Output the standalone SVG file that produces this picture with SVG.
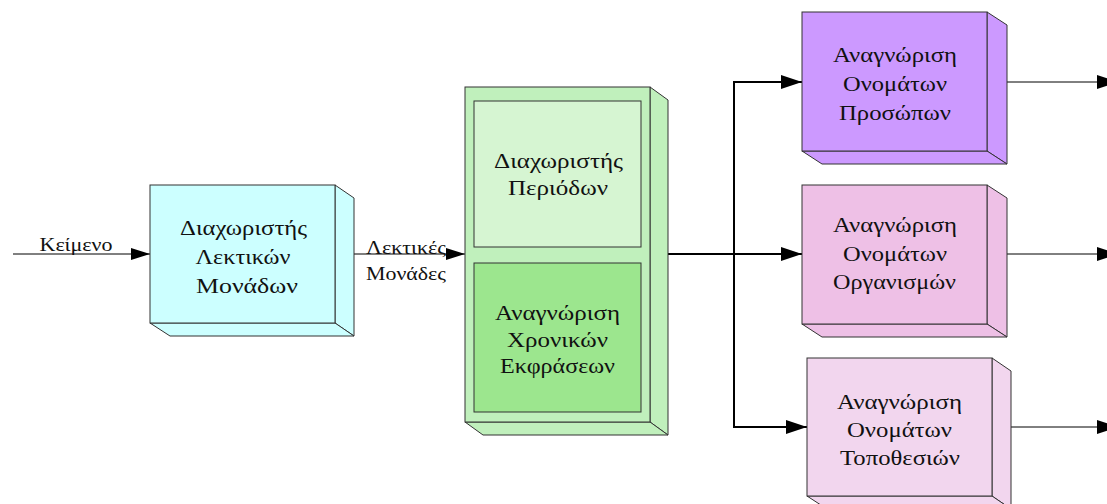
<svg xmlns="http://www.w3.org/2000/svg" width="1107" height="504" viewBox="0 0 1107 504">
  <style>
    .face { stroke: #333333; stroke-width: 1; }
    .lbl { font-size: 22px; fill: #111111; text-anchor: middle; }
    .elbl { font-size: 19px; fill: #111111; text-anchor: middle; }
    .wire { stroke: #000000; stroke-width: 1; fill: none; }
    .wire-bold { stroke: #000000; stroke-width: 2; fill: none; }
  </style>
  <defs>
    <marker id="arrow" viewBox="0 0 19 12" refX="19" refY="6" markerWidth="19" markerHeight="12" markerUnits="userSpaceOnUse" orient="auto">
      <path d="M0,0 L19,6 L0,12 Z" fill="#000000"/>
    </marker>
    <marker id="arrow-lg" viewBox="0 0 21 14" refX="21" refY="7" markerWidth="21" markerHeight="14" markerUnits="userSpaceOnUse" orient="auto">
      <path d="M0,0 L21,7 L0,14 Z" fill="#000000"/>
    </marker>
  </defs>
  <rect width="1107" height="504" fill="#ffffff"/>

  <!-- connectors -->
  <g id="connectors" font-family="Liberation Serif, serif">
    <line class="wire" x1="13" y1="254" x2="150" y2="254" marker-end="url(#arrow)"/>
    <line class="wire" x1="335" y1="254" x2="465" y2="254" marker-end="url(#arrow)"/>
    <line class="wire-bold" x1="650" y1="254" x2="735" y2="254"/>
    <polyline class="wire-bold" points="734,427 734,82 802,82" marker-end="url(#arrow-lg)"/>
    <line class="wire-bold" x1="734" y1="254" x2="802" y2="254" marker-end="url(#arrow-lg)"/>
    <line class="wire-bold" x1="733" y1="427" x2="807" y2="427" marker-end="url(#arrow-lg)"/>
    <line class="wire" x1="987" y1="82" x2="1118" y2="82" marker-end="url(#arrow-lg)"/>
    <line class="wire" x1="987" y1="254" x2="1118" y2="254" marker-end="url(#arrow-lg)"/>
    <line class="wire" x1="992" y1="427" x2="1118" y2="427" marker-end="url(#arrow-lg)"/>
    <text class="elbl" x="76" y="251" textLength="73" lengthAdjust="spacingAndGlyphs">Κείμενο</text>
    <text class="elbl" x="406" y="254" textLength="80" lengthAdjust="spacingAndGlyphs">Λεκτικές</text>
    <text class="elbl" x="406" y="280" textLength="80" lengthAdjust="spacingAndGlyphs">Μονάδες</text>
  </g>

  <!-- tokenizer -->
  <g id="tokenizer" fill="#ccffff" font-family="Liberation Serif, serif">
    <polygon class="face" points="335,185 354,198 354,336 335,323"/>
    <polygon class="face" points="150,323 335,323 354,336 170,336"/>
    <rect class="face" x="150" y="185" width="185" height="138"/>
    <text class="lbl" x="243.5" y="235" textLength="127" lengthAdjust="spacingAndGlyphs">Διαχωριστής</text>
    <text class="lbl" x="243" y="264" textLength="95" lengthAdjust="spacingAndGlyphs">Λεκτικών</text>
    <text class="lbl" x="247" y="293" textLength="102" lengthAdjust="spacingAndGlyphs">Μονάδων</text>
  </g>

  <!-- sentence splitter + temporal expressions -->
  <g id="preprocessing" fill="#c0f0bc" font-family="Liberation Serif, serif">
    <polygon class="face" points="650,87 668,100 668,435 650,422"/>
    <polygon class="face" points="465,422 650,422 668,435 483,435"/>
    <rect class="face" x="465" y="87" width="185" height="335"/>
    <rect class="face" x="474" y="101" width="167" height="146" fill="#d6f5d2"/>
    <rect class="face" x="474" y="263" width="167" height="149" fill="#9ce68e"/>
    <text class="lbl" x="558.5" y="168" textLength="129" lengthAdjust="spacingAndGlyphs">Διαχωριστής</text>
    <text class="lbl" x="558" y="195" textLength="100" lengthAdjust="spacingAndGlyphs">Περιόδων</text>
    <text class="lbl" x="557.5" y="320" textLength="125" lengthAdjust="spacingAndGlyphs">Αναγνώριση</text>
    <text class="lbl" x="557.5" y="347" textLength="101" lengthAdjust="spacingAndGlyphs">Χρονικών</text>
    <text class="lbl" x="557.5" y="373" textLength="115" lengthAdjust="spacingAndGlyphs">Εκφράσεων</text>
  </g>

  <!-- person names -->
  <g id="persons" fill="#cc99ff" font-family="Liberation Serif, serif">
    <polygon class="face" points="987,12 1007,25 1007,164 987,151"/>
    <polygon class="face" points="802,151 987,151 1007,164 822,164"/>
    <rect class="face" x="802" y="12" width="185" height="139"/>
    <text class="lbl" x="895" y="62" textLength="124" lengthAdjust="spacingAndGlyphs">Αναγνώριση</text>
    <text class="lbl" x="895" y="91" textLength="104" lengthAdjust="spacingAndGlyphs">Ονομάτων</text>
    <text class="lbl" x="895" y="120" textLength="112" lengthAdjust="spacingAndGlyphs">Προσώπων</text>
  </g>

  <!-- organization names -->
  <g id="organizations" fill="#eec0e6" font-family="Liberation Serif, serif">
    <polygon class="face" points="987,185 1007,198 1007,337 987,324"/>
    <polygon class="face" points="802,324 987,324 1007,337 822,337"/>
    <rect class="face" x="802" y="185" width="185" height="139"/>
    <text class="lbl" x="895" y="232" textLength="124" lengthAdjust="spacingAndGlyphs">Αναγνώριση</text>
    <text class="lbl" x="895" y="261" textLength="104" lengthAdjust="spacingAndGlyphs">Ονομάτων</text>
    <text class="lbl" x="894.5" y="289" textLength="123" lengthAdjust="spacingAndGlyphs">Οργανισμών</text>
  </g>

  <!-- location names -->
  <g id="locations" fill="#f2d6ee" font-family="Liberation Serif, serif">
    <polygon class="face" points="992,358 1011,371 1011,509 992,496"/>
    <polygon class="face" points="807,496 992,496 1011,509 827,509"/>
    <rect class="face" x="807" y="358" width="185" height="138"/>
    <text class="lbl" x="899.5" y="409" textLength="125" lengthAdjust="spacingAndGlyphs">Αναγνώριση</text>
    <text class="lbl" x="899.5" y="437" textLength="105" lengthAdjust="spacingAndGlyphs">Ονομάτων</text>
    <text class="lbl" x="900" y="465" textLength="120" lengthAdjust="spacingAndGlyphs">Τοποθεσιών</text>
  </g>
</svg>
